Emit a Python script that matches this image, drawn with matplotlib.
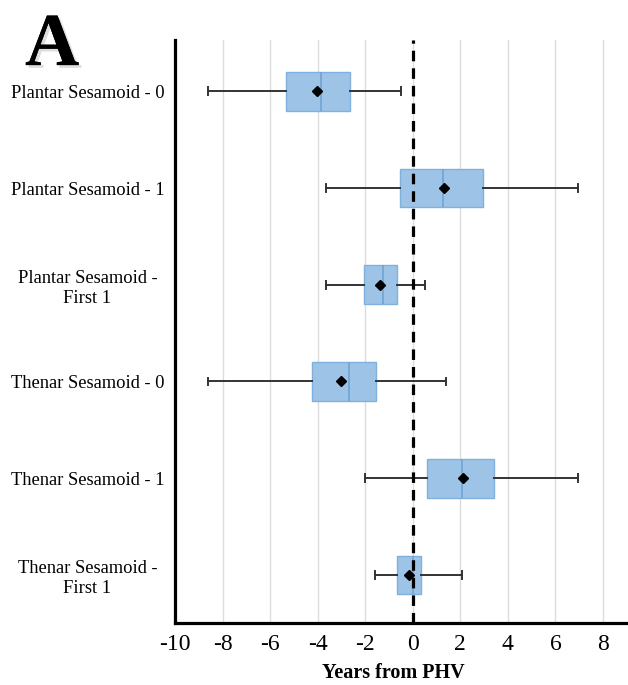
import matplotlib
matplotlib.use("Agg")
import matplotlib.pyplot as plt
import matplotlib.patheffects as pe

labels = ["Plantar Sesamoid - 0", "Plantar Sesamoid - 1", "Plantar Sesamoid -\nFirst 1",
          "Thenar Sesamoid - 0", "Thenar Sesamoid - 1", "Thenar Sesamoid -\nFirst 1"]
whislo = [-8.6, -3.65, -3.65, -8.6, -2.0, -1.6]
q1 = [-5.35, -0.55, -2.05, -4.25, 0.6, -0.65]
med = [-3.85, 1.25, -1.25, -2.7, 2.05, 0.0]
q3 = [-2.65, 2.95, -0.65, -1.55, 3.4, 0.35]
whishi = [-0.5, 6.95, 0.5, 1.4, 6.95, 2.05]
mean = [-4.05, 1.3, -1.4, -3.0, 2.1, -0.15]
xticks = [-10, -8, -6, -4, -2, 0, 2, 4, 6, 8]

plt.rcParams['font.family'] = ['Liberation Serif', 'DejaVu Serif']

fig = plt.figure(figsize=(6.28, 6.85), dpi=100)
ax = fig.add_axes([0.2787, 0.09, 0.7213, 0.8516])

n = len(labels)
positions = list(range(n, 0, -1))
stats = []
for i in range(n):
    stats.append(dict(label=labels[i], whislo=whislo[i], q1=q1[i], med=med[i],
                      q3=q3[i], whishi=whishi[i], mean=mean[i]))

ax.bxp(stats, positions=positions, orientation='horizontal', widths=0.4,
       capwidths=0.08, showmeans=True, showfliers=False, patch_artist=True,
       boxprops=dict(facecolor='#9dc3e6', edgecolor='#7fb0de', linewidth=1.0),
       medianprops=dict(color='#6fa3d6', linewidth=1.2),
       whiskerprops=dict(color='#333333', linewidth=1.4),
       capprops=dict(color='#333333', linewidth=1.4),
       meanprops=dict(marker='D', markerfacecolor='black', markeredgecolor='black',
                      markersize=5), zorder=3)

ax.axvline(0, color='black', linewidth=2.3, dashes=(3.3, 2.2), zorder=4)

ax.set_xlim(-10, 9.05)
ax.set_ylim(0.5, 6.53)
ax.set_xticks(xticks)
ax.set_xticklabels([str(t) for t in xticks], fontsize=17)
ax.set_yticks(positions)
ax.set_yticklabels(labels, fontsize=13.3, ha='center', multialignment='center',
                   linespacing=1.25)
ax.tick_params(axis='y', length=0, pad=63)
ax.tick_params(axis='x', length=0, pad=8)
ax.xaxis.grid(True, color='#dcdcdc', linewidth=1.0, zorder=0)
ax.set_axisbelow(True)
for s in ['top', 'right']:
    ax.spines[s].set_visible(False)
for s in ['left', 'bottom']:
    ax.spines[s].set_linewidth(2.3)
    ax.spines[s].set_color('black')

ax.set_xlabel('Years from PHV', fontsize=14.5, fontweight='bold')
ax.xaxis.set_label_coords(0.482, -0.068)

fig.text(0.083, 0.905, 'A', fontsize=54, fontweight='bold', ha='center', va='baseline',
         path_effects=[pe.withSimplePatchShadow(offset=(2, -2), alpha=0.2,
                                                shadow_rgbFace='#555555'), pe.Normal()])

fig.savefig('out.png', dpi=100)
